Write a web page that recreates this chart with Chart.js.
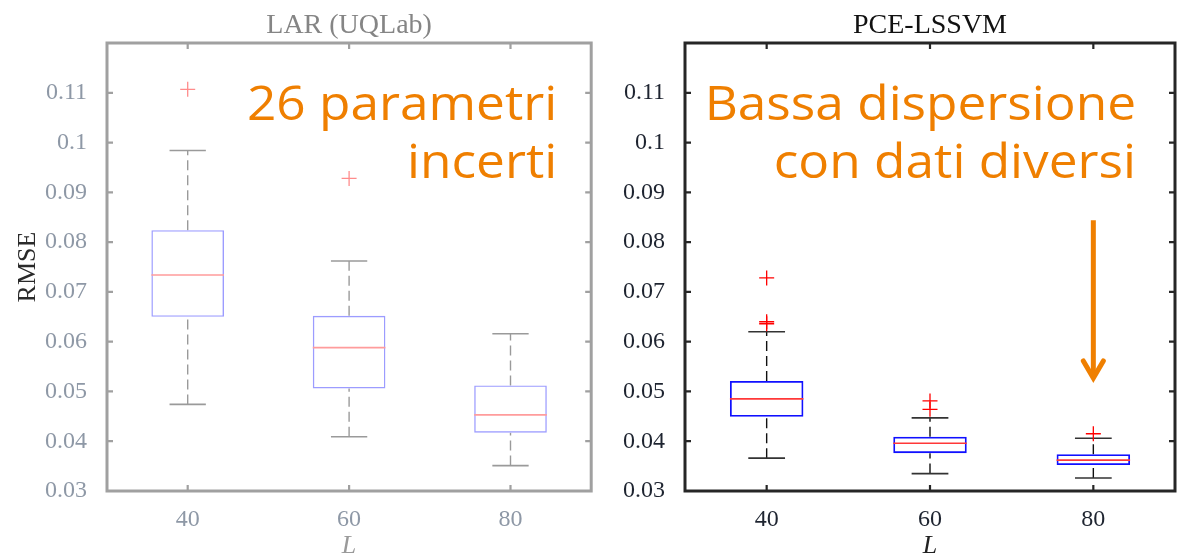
<!DOCTYPE html>
<html><head><meta charset="utf-8">
<script src="https://cdn.jsdelivr.net/npm/chart.js@4/dist/chart.umd.min.js"></script>
<style>
html,body{margin:0;padding:0;background:#fff;}
#wrap{position:relative;width:1188px;height:558px;overflow:hidden;background:#fff;}
#c1{position:absolute;left:0;top:0;width:600px;height:558px;}
#c2{position:absolute;left:600px;top:0;width:588px;height:558px;}
</style></head><body>
<div id="wrap"><canvas id="c1" width="600" height="558"></canvas><canvas id="c2" width="588" height="558"></canvas></div>
<script>
// ---- data ----
const categories = ['40', '60', '80'];
const yTickValues = [0.03, 0.04, 0.05, 0.06, 0.07, 0.08, 0.09, 0.10, 0.11];
const yTickLabels = ['0.03', '0.04', '0.05', '0.06', '0.07', '0.08', '0.09', '0.1', '0.11'];

// LAR (UQLab)
const larLow = [0.0474, 0.0409, 0.0351];
const larQ1 = [0.0650, 0.0506, 0.0417];
const larMedian = [0.0734, 0.0588, 0.0453];
const larQ3 = [0.0824, 0.0652, 0.0512];
const larHigh = [0.0984, 0.0762, 0.0616];
const larOutliers = [[0.1107], [0.0928], []];

// PCE-LSSVM
const pceLow = [0.0366, 0.0335, 0.0326];
const pceQ1 = [0.0449, 0.0376, 0.0352];
const pceMedian = [0.0485, 0.0396, 0.0362];
const pceQ3 = [0.0521, 0.0409, 0.0374];
const pceHigh = [0.0620, 0.0447, 0.0406];
const pceOutliers = [[0.0728, 0.0640, 0.0636], [0.0481, 0.0464], [0.0415]];

// annotation arrow (category index, from value, to value)
const arrowCategory = 3;
const arrowFrom = 0.0844;
const arrowTo = 0.0523;

// ---- styling constants ----
const BOX_W = 0.45;      // box width in category units
const CAP_HALF = 0.1125; // half cap width
const SERIF = '"Liberation Serif", "Times New Roman", serif';
const NOTE_FONT = '"Open Sans", "Noto Sans", sans-serif';
const ORANGE = '#EF7F00';
const NOTE_STRETCH = 1.07;

function buildDatasets(low, q1, med, q3, high, outl, st) {
  const boxes = categories.map((c, i) => ({x: i + 1, y: [q1[i], q3[i]]}));
  const medians = [];
  const whiskers = [];
  const caps = [];
  const outs = [];
  categories.forEach((c, i) => {
    const p = i + 1;
    medians.push({x: p - BOX_W / 2, y: med[i]}, {x: p + BOX_W / 2, y: med[i]}, {x: p, y: null});
    whiskers.push({x: p, y: q3[i]}, {x: p, y: high[i]}, {x: p, y: null},
                  {x: p, y: low[i]}, {x: p, y: q1[i]}, {x: p, y: null});
    caps.push({x: p - CAP_HALF, y: high[i]}, {x: p + CAP_HALF, y: high[i]}, {x: p, y: null},
              {x: p - CAP_HALF, y: low[i]}, {x: p + CAP_HALF, y: low[i]}, {x: p, y: null});
    outl[i].forEach(v => outs.push({x: p, y: v}));
  });
  return [
    {type: 'line', data: whiskers, borderColor: st.whisker, borderWidth: 1.4, borderDash: [10, 5],
     pointRadius: 0, spanGaps: false, fill: false, order: 4},
    {type: 'line', data: caps, borderColor: st.cap, borderWidth: 1.6,
     pointRadius: 0, spanGaps: false, fill: false, order: 3},
    {type: 'bar', data: boxes, borderColor: st.box, backgroundColor: 'rgba(255,255,255,0)',
     borderWidth: st.boxWidth, borderSkipped: false, barPercentage: BOX_W, categoryPercentage: 1, order: 2},
    {type: 'line', data: medians, borderColor: st.median, borderWidth: 1.6,
     pointRadius: 0, spanGaps: false, fill: false, order: 1},
    {type: 'scatter', data: outs, pointStyle: 'cross', pointRadius: 7.5, pointBorderWidth: 1.3,
     borderColor: st.outlier, backgroundColor: st.outlier, order: 0}
  ];
}

const frameDeco = {
  id: 'frameDeco',
  afterDatasetsDraw(chart, args, o) {
    const {ctx, chartArea: a} = chart;
    const x = chart.scales.x, y = chart.scales.y;
    ctx.save();
    ctx.strokeStyle = o.frameColor;
    ctx.lineWidth = o.frameWidth;
    ctx.strokeRect(a.left, a.top, a.right - a.left, a.bottom - a.top);
    ctx.lineWidth = o.tickWidth;
    ctx.beginPath();
    y.ticks.forEach(t => {
      const py = y.getPixelForValue(t.value);
      ctx.moveTo(a.left, py); ctx.lineTo(a.left + o.tickLen, py);
      ctx.moveTo(a.right, py); ctx.lineTo(a.right - o.tickLen, py);
    });
    x.ticks.forEach(t => {
      const px = x.getPixelForValue(t.value);
      ctx.moveTo(px, a.bottom); ctx.lineTo(px, a.bottom - o.tickLen);
      ctx.moveTo(px, a.top); ctx.lineTo(px, a.top + o.tickLen);
    });
    ctx.stroke();
    // title
    ctx.font = '28px ' + SERIF;
    ctx.fillStyle = o.titleColor;
    ctx.textAlign = 'center';
    ctx.textBaseline = 'alphabetic';
    ctx.fillText(o.title, (a.left + a.right) / 2, a.top - 10);
    // note text (right-aligned, slightly widened)
    ctx.font = o.noteSize + 'px ' + NOTE_FONT;
    ctx.fillStyle = ORANGE;
    ctx.textAlign = 'right';
    o.note.forEach((line, k) => {
      const rx = a.right - o.noteInset;
      const by = a.top + 77 + 58 * k;
      ctx.save();
      ctx.translate(rx, by);
      ctx.scale(NOTE_STRETCH, 1);
      ctx.fillText(line, 0, 0);
      ctx.restore();
    });
    // arrow
    if (o.arrow) {
      const ax = x.getPixelForValue(arrowCategory);
      const y0 = y.getPixelForValue(arrowFrom), y1 = y.getPixelForValue(arrowTo);
      ctx.strokeStyle = ORANGE;
      ctx.lineWidth = 5;
      ctx.lineCap = 'butt';
      ctx.beginPath(); ctx.moveTo(ax, y0); ctx.lineTo(ax, y1 - 4); ctx.stroke();
      ctx.lineCap = 'round'; ctx.lineJoin = 'miter';
      ctx.beginPath();
      ctx.moveTo(ax - 10, y1 - 19); ctx.lineTo(ax, y1 - 2); ctx.lineTo(ax + 10, y1 - 19);
      ctx.stroke();
    }
    ctx.restore();
  }
};

function makeChart(id, datasets, st) {
  return new Chart(document.getElementById(id), {
    data: {datasets},
    plugins: [frameDeco],
    options: {
      responsive: false,
      animation: false,
      events: [],
      layout: {padding: {top: 43, right: st.padRight, left: 0, bottom: 0}},
      plugins: {
        legend: {display: false},
        tooltip: {enabled: false},
        frameDeco: {
          frameColor: st.frame, frameWidth: 3, tickWidth: 2.2, tickLen: 6,
          title: st.title, titleColor: st.titleColor,
          note: st.note, noteSize: 48, noteInset: st.noteInset, arrow: st.arrow
        }
      },
      scales: {
        x: {
          type: 'linear', min: 0.5, max: 3.5, offset: false,
          afterBuildTicks: s => { s.ticks = categories.map((c, i) => ({value: i + 1})); },
          afterFit: s => { s.height = 67; },
          grid: {display: false, offset: false},
          border: {display: false},
          ticks: {
            autoSkip: false, maxRotation: 0, padding: 6,
            color: st.tickColor, font: {family: SERIF, size: 24},
            callback: v => categories[Math.round(v) - 1]
          },
          title: {display: true, text: 'L', color: st.labelColor,
                  font: {family: SERIF, size: 26, style: 'italic', lineHeight: 0.9}, padding: {top: 0, bottom: 0}}
        },
        y: {
          type: 'linear', min: 0.03, max: 0.12,
          afterBuildTicks: s => { s.ticks = yTickValues.map(v => ({value: v})); },
          afterFit: s => { s.width = st.yWidth; },
          grid: {display: false},
          border: {display: false},
          ticks: {
            autoSkip: false, padding: 12,
            color: st.tickColor, font: {family: SERIF, size: 24},
            callback: v => yTickLabels[yTickValues.findIndex(t => Math.abs(t - v) < 1e-9)]
          },
          title: {display: st.yTitle, text: 'RMSE', color: '#2a2a2a',
                  font: {family: SERIF, size: 26}, padding: {top: 13, bottom: 0}}
        }
      }
    }
  });
}

const larStyle = {box: '#9c9cff', median: '#ff9c9c', whisker: '#9a9a9a', cap: '#9a9a9a', outlier: '#ff8c8c', boxWidth: 1.4};
const pceStyle = {box: '#1010ff', median: '#ff3838', whisker: '#111111', cap: '#333333', outlier: '#ff0000', boxWidth: 1.8};

makeChart('c1', buildDatasets(larLow, larQ1, larMedian, larQ3, larHigh, larOutliers, larStyle), {
  padRight: 5, yWidth: 107, frame: '#a0a0a0', tickColor: '#8e98a6', labelColor: '#9a9a9a',
  title: 'LAR (UQLab)', titleColor: '#858585', yTitle: true,
  note: ['26 parametri', 'incerti'], noteInset: 34, arrow: false
});
makeChart('c2', buildDatasets(pceLow, pceQ1, pceMedian, pceQ3, pceHigh, pceOutliers, pceStyle), {
  padRight: 13, yWidth: 85, frame: '#262626', tickColor: '#1e2430', labelColor: '#222222',
  title: 'PCE-LSSVM', titleColor: '#111111', yTitle: false,
  note: ['Bassa dispersione', 'con dati diversi'], noteInset: 39, arrow: true
});
</script>
</body></html>
